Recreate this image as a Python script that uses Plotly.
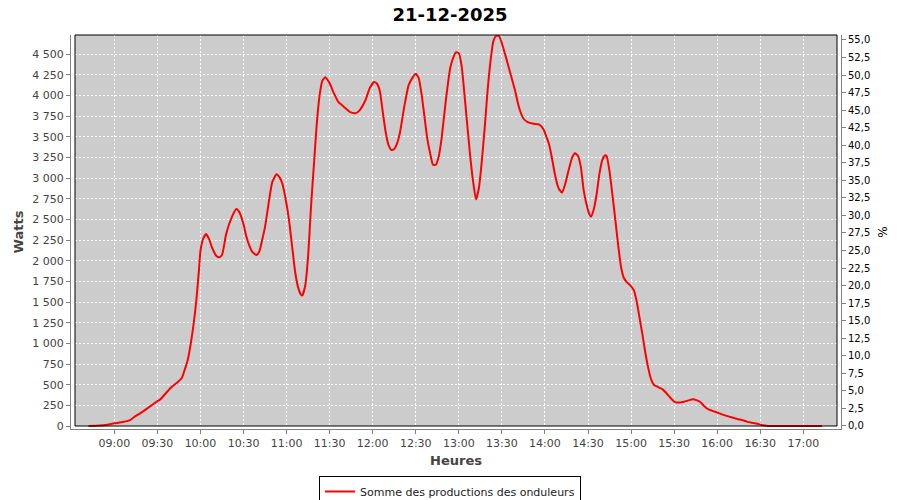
import plotly.graph_objects as go

# ---- data ----
jour = "2025-12-21"
heures = [
    "08:42", "08:50", "08:55", "09:00", "09:06", "09:11", "09:14", "09:18", "09:23", "09:30",
    "09:32", "09:39", "09:44", "09:47", "09:49", "09:51", "09:54", "09:57", "09:59", "10:00",
    "10:02", "10:04", "10:06", "10:08", "10:11", "10:13", "10:15", "10:18", "10:22", "10:25",
    "10:27", "10:30", "10:32", "10:36", "10:39", "10:41", "10:43", "10:45", "10:48", "10:50",
    "10:53", "10:55", "10:57", "11:00", "11:02", "11:04", "11:06", "11:08", "11:10", "11:11",
    "11:13", "11:15", "11:17", "11:19", "11:21", "11:23", "11:25", "11:27", "11:30", "11:33",
    "11:36", "11:40", "11:44", "11:48", "11:51", "11:55", "11:58", "12:01", "12:03", "12:05",
    "12:07", "12:09", "12:11", "12:13", "12:15", "12:17", "12:19", "12:22", "12:25", "12:28",
    "12:30", "12:32", "12:34", "12:36", "12:38", "12:40", "12:42", "12:44", "12:46", "12:48",
    "12:51", "12:54", "12:56", "12:58", "13:00", "13:02", "13:04", "13:06", "13:08", "13:10",
    "13:12", "13:14", "13:16", "13:18", "13:20", "13:22", "13:24", "13:26", "13:28", "13:30",
    "13:33", "13:36", "13:39", "13:42", "13:45", "13:48", "13:52", "13:56", "13:59", "14:01",
    "14:03", "14:05", "14:07", "14:09", "14:10", "14:12", "14:14", "14:16", "14:19", "14:21",
    "14:23", "14:25", "14:27", "14:29", "14:31", "14:32", "14:34", "14:36", "14:38", "14:40",
    "14:42", "14:43", "14:45", "14:47", "14:49", "14:51", "14:53", "14:55", "14:57", "14:59",
    "15:02", "15:04", "15:06", "15:08", "15:10", "15:12", "15:14", "15:16", "15:19", "15:22",
    "15:25", "15:28", "15:31", "15:34", "15:37", "15:40", "15:43", "15:46", "15:48", "15:51",
    "15:54", "15:58", "16:02", "16:06", "16:10", "16:14", "16:18", "16:21", "16:24", "16:28",
    "16:31", "16:34", "16:38", "16:53", "17:13",
]
watts = [
    0, 5, 16, 32, 48, 70, 110, 153, 214, 300,
    322, 456, 530, 580, 680, 790, 1081, 1500, 1900, 2120,
    2270, 2323, 2260, 2160, 2060, 2040, 2068, 2330, 2532, 2625,
    2590, 2440, 2290, 2109, 2068, 2110, 2250, 2411, 2750, 2950,
    3044, 3010, 2935, 2680, 2450, 2150, 1860, 1680, 1590, 1580,
    1700, 2050, 2650, 3150, 3650, 4000, 4180, 4218, 4145, 4024,
    3920, 3860, 3800, 3782, 3822, 3943, 4090, 4160, 4140, 4050,
    3800, 3560, 3400, 3339, 3350, 3419, 3550, 3863, 4120, 4220,
    4260, 4210, 4020, 3750, 3480, 3300, 3160, 3160, 3260, 3480,
    3944, 4330, 4450, 4520, 4510, 4350, 4000, 3620, 3250, 2950,
    2740, 2880, 3200, 3600, 4050, 4400, 4650, 4718, 4718, 4630,
    4450, 4260, 4070, 3850, 3720, 3675, 3655, 3645, 3590, 3500,
    3400, 3230, 3040, 2900, 2860, 2825, 2920, 3060, 3250, 3298,
    3270, 3137, 2850, 2680, 2560, 2532, 2620, 2800, 3056, 3220,
    3275, 3266, 3080, 2800, 2500, 2190, 1927, 1790, 1740, 1710,
    1640, 1500, 1300, 1100, 880, 700, 560, 496, 470, 443,
    390, 330, 286, 284, 294, 310, 325, 310, 294, 240,
    200, 175, 150, 125, 105, 85, 70, 50, 40, 28,
    12, 4, 0, 0, 0,
]
serie_nom = "Somme des productions des onduleurs"
titre = "21-12-2025"
x_range = ["08:29:48", "17:26:16"]
x_ticks = ["09:00", "09:30", "10:00", "10:30", "11:00", "11:30", "12:00", "12:30",
           "13:00", "13:30", "14:00", "14:30", "15:00", "15:30", "16:00", "16:30", "17:00"]
y_range = [-36.3, 4729.8]
pct_range = [-0.43, 55.71]
pct_ticks = [i * 2.5 for i in range(23)]

x = [f"{jour} {h}" for h in heures]

FONT = "DejaVu Sans"
fig = go.Figure()
fig.add_trace(go.Scatter(
    x=x, y=watts, mode="lines", name=serie_nom,
    line=dict(color="#ff0000", width=2, shape="spline", smoothing=0.5),
    hoverinfo="skip",
))
# invisible trace so the percentage axis is drawn
fig.add_trace(go.Scatter(
    x=x[:1], y=[0], yaxis="y2", mode="markers", marker=dict(opacity=0),
    showlegend=False, hoverinfo="skip",
))

W, H = 900, 500
L, R, T, B = 71, 841, 35, 429      # axis-line box (px)
PL, PR, PT, PB = 75, 837, 35, 426  # gray plot box (px)
pw, ph = R - L, B - T

fig.update_layout(
    width=W, height=H,
    margin=dict(l=L, r=W - R, t=T, b=H - B, pad=0, autoexpand=False),
    paper_bgcolor="white", plot_bgcolor="rgba(0,0,0,0)",
    font=dict(family=FONT, size=11, color="#444444"),
    separators=", ",
    title=dict(text=titre, x=450 / W, xref="container", xanchor="center",
               y=1 - 14.5 / H, yref="container", yanchor="middle",
               font=dict(family=FONT, size=18, color="black", weight="bold")),
    xaxis=dict(
        type="date", range=[f"{jour} {x_range[0]}", f"{jour} {x_range[1]}"],
        tickvals=[f"{jour} {t}" for t in x_ticks], ticktext=x_ticks,
        showgrid=True, gridcolor="white", griddash="2px,2px", gridwidth=1,
        showline=True, linecolor="#808080", linewidth=1,
        ticks="outside", ticklen=4, tickcolor="#808080",
        tickfont=dict(size=11, color="#444444"),
        zeroline=False, automargin=False,
        title=dict(text="Heures", standoff=6,
                   font=dict(family=FONT, size=13, color="#444444", weight="bold")),
    ),
    yaxis=dict(
        range=y_range, tick0=0, dtick=250, tickformat=",d",
        showgrid=True, gridcolor="white", griddash="2px,2px", gridwidth=1,
        showline=True, linecolor="#808080", linewidth=1,
        ticks="outside", ticklen=4, tickcolor="#808080",
        tickfont=dict(size=11, color="#444444"),
        zeroline=False, automargin=False,
        title=dict(text="Watts", standoff=5,
                   font=dict(family=FONT, size=13, color="#444444", weight="bold")),
    ),
    yaxis2=dict(
        overlaying="y", side="right", range=pct_range,
        tickvals=pct_ticks, tickformat=".1f",
        showgrid=False, zeroline=False, automargin=False,
        showline=True, linecolor="#808080", linewidth=1,
        ticks="outside", ticklen=4, tickcolor="#808080",
        tickfont=dict(size=10, color="black"),
        title=dict(text="%", standoff=9, font=dict(family=FONT, size=12, color="black")),
    ),
    legend=dict(
        orientation="h", x=(450 - L) / pw, xanchor="center",
        y=(B - 476) / ph, yanchor="top",
        bordercolor="black", borderwidth=1, bgcolor="white",
        font=dict(family=FONT, size=11, color="#222222"),
        itemwidth=30,
    ),
    showlegend=True,
    shapes=[
        dict(type="rect", xref="paper", yref="paper", layer="below",
             x0=(PL - L) / pw, x1=(PR - L) / pw, y0=(B - PB) / ph, y1=(B - PT) / ph,
             fillcolor="#cccccc", line=dict(width=0)),
        dict(type="rect", xref="paper", yref="paper", layer="above",
             x0=(PL - L) / pw, x1=(PR - L) / pw, y0=(B - PB) / ph, y1=(B - PT) / ph,
             fillcolor="rgba(0,0,0,0)", line=dict(color="black", width=1)),
    ],
)

# remove the default 8px page margin so the 900x500 figure fills the window
fig.write_html("out.html", config={"displayModeBar": False},
               post_script="document.body.style.margin='0';")
